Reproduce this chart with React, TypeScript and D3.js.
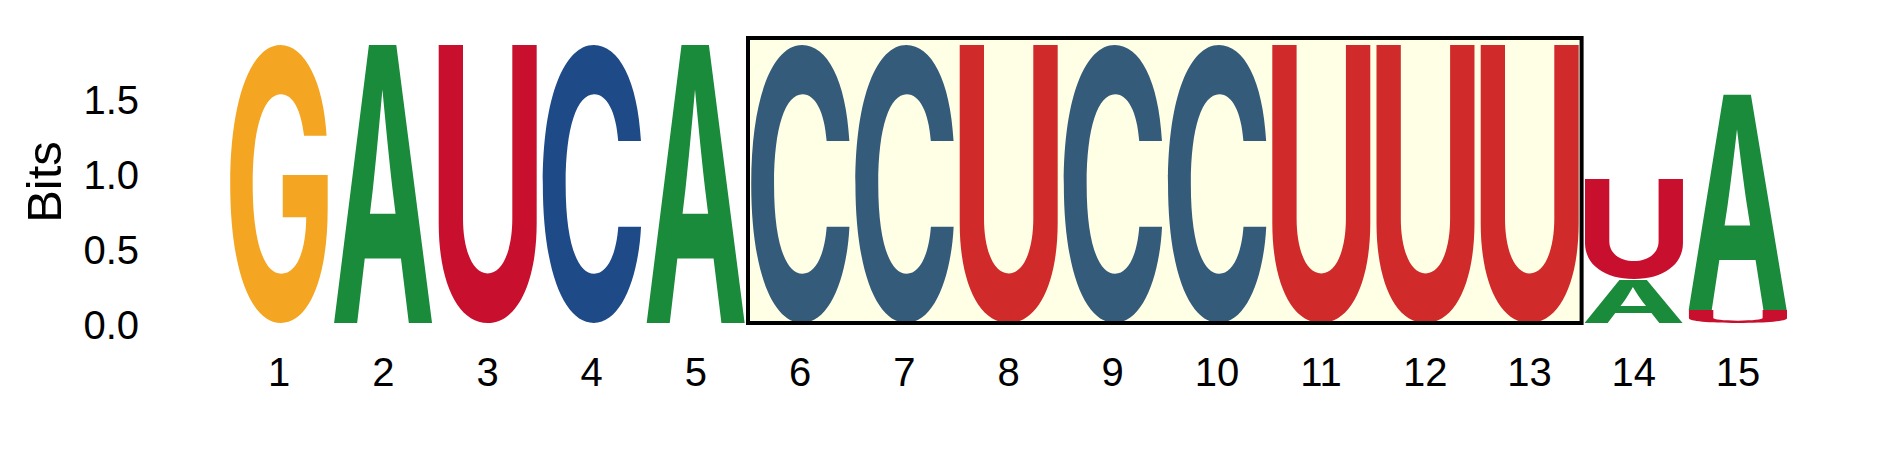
import { scaleBand, scaleLinear, format } from "d3";
import { useMemo } from "react";

// logo columns, letters stacked bottom -> top
const POSITIONS = [1, 2, 3, 4, 5, 6, 7, 8, 9, 10, 11, 12, 13, 14, 15];
const LETTERS: string[][] = [
  ["G"], ["A"], ["U"], ["C"], ["A"], ["C"], ["C"], ["U"],
  ["C"], ["C"], ["U"], ["U"], ["U"], ["A", "U"], ["U", "A"],
];
const BITS: number[][] = [
  [1.86], [1.86], [1.86], [1.86], [1.86], [1.86], [1.86], [1.86],
  [1.86], [1.86], [1.86], [1.86], [1.86], [0.29, 0.67], [0.087, 1.44],
];
const Y_TICKS = [0, 0.5, 1, 1.5];
const HIGHLIGHT: [number, number] = [6, 13];
const HIGHLIGHT_TOP = 1.9;

const COLORS: Record<string, string> = { A: "#1a8a3b", C: "#1e4a88", G: "#f4a522", U: "#c8102e" };
const HL_COLORS: Record<string, string> = { A: "#1a8a3b", C: "#345b7a", G: "#f4a522", U: "#d02a2a" };

const W = 1889, H = 472;
const LABEL_FONT = "'Liberation Sans', Arial, Helvetica, sans-serif";
const LOGO_FONT = "Inter, 'Liberation Sans', sans-serif";
const FS = 100;

function inkBox(ch: string) {
  const ctx = document.createElement("canvas").getContext("2d")!;
  ctx.font = `bold ${FS}px ${LOGO_FONT}`;
  const m = ctx.measureText(ch);
  return { l: m.actualBoundingBoxLeft, w: m.actualBoundingBoxLeft + m.actualBoundingBoxRight,
    a: m.actualBoundingBoxAscent, h: m.actualBoundingBoxAscent + m.actualBoundingBoxDescent };
}

export default function App() {
  const x = scaleBand<number>().domain(POSITIONS).range([227, 1790]).paddingInner(0.045).paddingOuter(0.0225);
  const y = scaleLinear().domain([0, 2]).range([323, 23]);
  const bw = x.bandwidth(), gap = (x.step() - bw) / 2;
  const boxes = useMemo(() => {
    const b: Record<string, ReturnType<typeof inkBox>> = {};
    "ACGU".split("").forEach(c => (b[c] = inkBox(c)));
    return b;
  }, []);
  const f = format(".1f");
  const inHL = (p: number) => p >= HIGHLIGHT[0] && p <= HIGHLIGHT[1];
  const boxX = x(HIGHLIGHT[0])! - gap;
  const boxW = x(HIGHLIGHT[1])! + bw + gap - boxX;

  return (
    <svg width={W} height={H} style={{ position: "absolute", left: 0, top: 0, background: "#fff" }}
      fontFamily={LABEL_FONT}>
      <rect x={boxX} y={y(HIGHLIGHT_TOP)} width={boxW} height={y(0) - y(HIGHLIGHT_TOP)} fill="#ffffe6" />
      {POSITIONS.map((p, i) => {
        let base = 0;
        return LETTERS[i].map((ch, j) => {
          const v = BITS[i][j];
          const top = y(base + v), hgt = y(base) - y(base + v);
          base += v;
          const ib = boxes[ch];
          const col = inHL(p) ? HL_COLORS[ch] : COLORS[ch];
          return (
            <text key={`${p}-${j}`} fontSize={FS} fontWeight="bold" fontFamily={LOGO_FONT} fill={col}
              transform={`translate(${x(p)},${top}) scale(${bw / ib.w},${hgt / ib.h}) translate(${ib.l},${ib.a})`}>
              {ch}
            </text>
          );
        });
      })}
      <rect x={boxX} y={y(HIGHLIGHT_TOP)} width={boxW} height={y(0) - y(HIGHLIGHT_TOP)}
        fill="none" stroke="#000" strokeWidth={4} />
      {Y_TICKS.map(t => (
        <text key={t} x={139} y={y(t) + 2} textAnchor="end" dominantBaseline="central" fontSize={40}>{f(t)}</text>
      ))}
      <text transform={`translate(61,182) rotate(-90)`} textAnchor="middle" fontSize={49}>Bits</text>
      {POSITIONS.map(p => (
        <text key={p} x={x(p)! + bw / 2} y={386} textAnchor="middle" fontSize={40}>{p}</text>
      ))}
    </svg>
  );
}
